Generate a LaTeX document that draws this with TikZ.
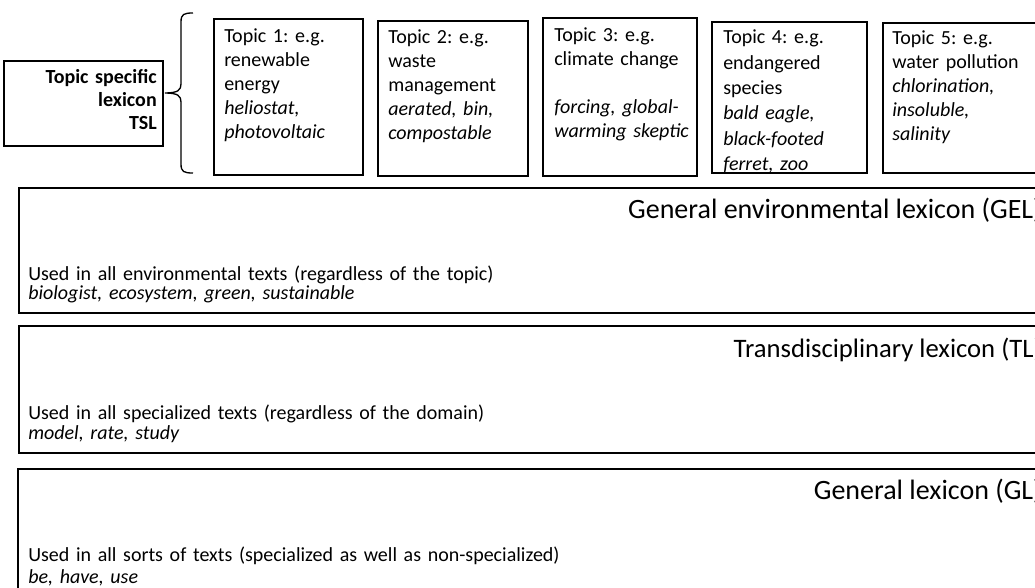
\documentclass[tikz,border=0pt]{standalone}
\usepackage{fontspec}
\setmainfont{Carlito}
\usetikzlibrary{fit}
% keep the fixed line pitch even where lines come close
\setlength{\lineskiplimit}{-20pt}
\frenchspacing
\begin{document}
\begin{tikzpicture}[x=0.75pt,y=-0.75pt,
  topicbox/.style={draw, line width=1.7pt, inner sep=0pt},
  layerbox/.style={draw, line width=2.1pt, inner sep=0pt},
  tslbox/.style={draw, line width=0.9pt, inner sep=0pt},
  topictext/.style={anchor=base west, inner sep=0pt, text width=150pt, align=left,
    font=\fontsize{15pt}{18pt}\selectfont},
  tsltext/.style={anchor=base east, inner sep=0pt, text width=110pt, align=right,
    font=\fontsize{15pt}{16.9pt}\selectfont\bfseries},
  bodytext/.style={anchor=base west, inner sep=0pt, text width=520pt, align=left},
  titletext/.style={anchor=base east, inner sep=0pt}]

\useasboundingbox (0,0) rectangle (1035,588);
\clip (0,0) rectangle (1035,588);

% topic specific lexicon label and its brace
\node[tslbox, fit={(4,61) (163,146)}] (tsl) {};
\node[tsltext] (tsllabel) at (157,84) {Topic specific\\lexicon\\TSL};
\draw[line width=1pt] (193,13) .. controls (184,13) and (181,14) .. (181,22)
  -- (181,84) .. controls (181,90) and (178,93) .. (165,93)
  .. controls (178,93) and (181,96) .. (181,102)
  -- (181,164) .. controls (181,172) and (184,173) .. (193,173);

% one box per topic
\node[topictext] (t1text) at (224,43) {Topic 1: e.g.\\renewable\\energy\\\textit{heliostat,}\\\textit{photovoltaic}};
\node[topicbox, fit={(214,19) (363,175)}] (t1) {};

\node[topictext] (t2text) at (388,44) {Topic 2: e.g.\\waste\\management\\\textit{aerated, bin,}\\\textit{compostable}};
\node[topicbox, fit={(378,21) (528,176)}] (t2) {};

\node[topictext] (t3text) at (554,42) {Topic 3: e.g.\\climate change\\[18pt]\textit{forcing, global-}\\\textit{warming skeptic}};
\node[topicbox, fit={(543,18) (697,176)}] (t3) {};

\node[topictext, font=\fontsize{15pt}{19pt}\selectfont] (t4text) at (723,44)
  {Topic 4: e.g.\\endangered\\species\\\textit{bald eagle,}\\\textit{black-footed}\\\textit{ferret, zoo}};
\node[topicbox, fit={(712,22) (867,173)}] (t4) {};

\node[topictext] (t5text) at (892,45) {Topic 5: e.g.\\water pollution\\\textit{chlorination,}\\\textit{insoluble,}\\\textit{salinity}};
\node[topicbox, fit={(883,23) (1060,173)}] (t5) {};

% the three broader lexicon layers
\node[layerbox, fit={(19,188) (1060,313)}] (gel) {};
\node[titletext, font=\fontsize{21pt}{25pt}\selectfont] (geltitle) at (1042,219) {General environmental lexicon (GEL)};
\node[bodytext, font=\fontsize{15pt}{14.6pt}\selectfont] (geltext) at (28,280)
  {Used in all environmental texts (regardless of the topic)\\\textit{biologist, ecosystem, green, sustainable}};

\node[layerbox, fit={(19,326) (1060,453)}] (tl) {};
\node[titletext, font=\fontsize{20pt}{24pt}\selectfont] (tltitle) at (1042,357) {Transdisciplinary lexicon (TL)};
\node[bodytext, font=\fontsize{15pt}{15pt}\selectfont] (tltext) at (28,419)
  {Used in all specialized texts (regardless of the domain)\\\textit{model, rate, study}};

\node[layerbox, fit={(18,469) (1060,640)}] (gl) {};
\node[titletext, font=\fontsize{21pt}{25pt}\selectfont] (gltitle) at (1042,499) {General lexicon (GL)};
\node[bodytext, font=\fontsize{15pt}{16.5pt}\selectfont] (gltext) at (28,561)
  {Used in all sorts of texts (specialized as well as non-specialized)\\\textit{be, have, use}};
\end{tikzpicture}
\end{document}
